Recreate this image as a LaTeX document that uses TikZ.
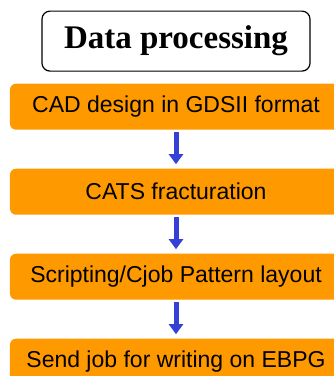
\documentclass[tikz,border=0pt]{standalone}
\usepackage{fontspec}
\setmainfont{Liberation Sans}
\newfontfamily\titlefont{Liberation Serif}
\usepackage{xcolor}
\usetikzlibrary{arrows.meta, shapes, matrix}

\definecolor{StepOrange}{RGB}{255,153,0}
\definecolor{FlowBlue}{RGB}{52,64,214}

\begin{document}
\begin{tikzpicture}[auto,
  title/.style ={draw=black, line width=1.2pt, rounded corners=8pt, fill=white,
    minimum width=268pt, minimum height=60pt,
    font=\titlefont\bfseries\fontsize{33}{36}\selectfont},
  %
  stage/.style ={fill=StepOrange, rounded corners=6pt, minimum width=332pt,
    minimum height=46pt, inner sep=0pt, font=\fontsize{23}{26}\selectfont},
  %
  flow/.style ={draw=FlowBlue, line width=5pt,
    -{Triangle[width=14pt,length=10pt]}, shorten <=2pt, shorten >=4pt} ]

  \useasboundingbox (0,0) rectangle (334pt,376pt);
  \clip (0,0) rectangle (334pt,376pt);

  \tikzset{every path/.style={line width=1pt}}

  \begin{scope}
    \matrix [matrix of nodes, inner sep=0pt, anchor=north, row sep=39pt]
    (Process) at (176pt,366pt) {
    %%%%%%%%%%%%%%%%%%%%%%%%%%%%%%%
    \node [title](title){Data processing}; \\[-27pt]
    %%%%%%%%%%%%%%%%%%%%%%%%%%%%%%%
    \node [stage](cad){CAD design in GDSII format}; \\
    \node [stage](cats){CATS fracturation}; \\
    \node [stage](cjob){Scripting/Cjob Pattern layout}; \\
    \node [stage](ebpg){Send job for writing on EBPG}; \\
  };
\end{scope}

\begin{scope}
  \draw [flow] (cad) -- (cats);
  \draw [flow] (cats) -- (cjob);
  \draw [flow] (cjob) -- (ebpg);
\end{scope}

\end{tikzpicture}
\end{document}
